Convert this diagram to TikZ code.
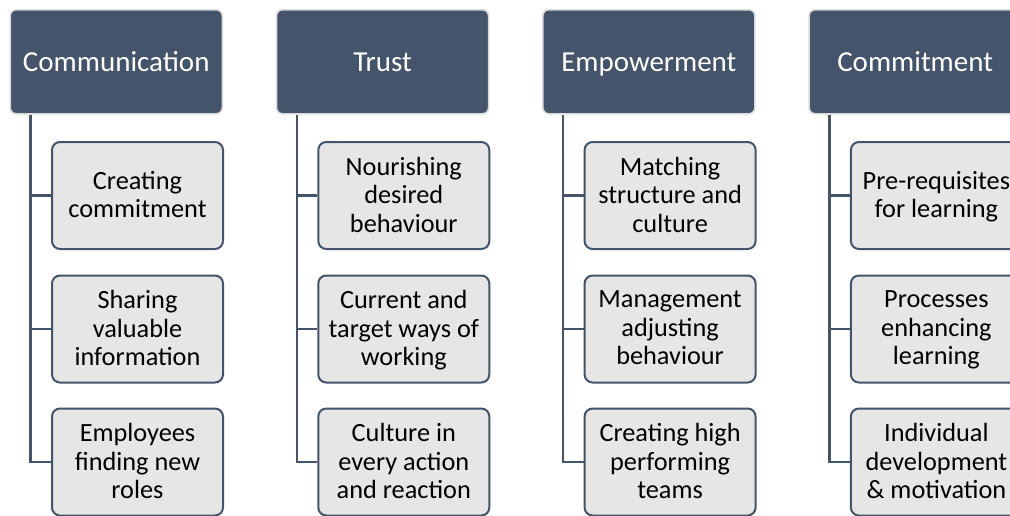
\documentclass[tikz,border=0pt]{standalone}
\usepackage{fontspec}
\setmainfont{Carlito}
\definecolor{slate}{HTML}{44546A}
\definecolor{paleGrey}{HTML}{E7E6E6}
\definecolor{rimGrey}{HTML}{DADADA}
\tikzset{
  headbox/.style={draw=rimGrey, line width=1.5pt, fill=slate, rounded corners=6pt,
    anchor=north west, minimum width=212pt, minimum height=104pt, inner sep=0pt,
    text height=19pt, text depth=0pt,
    text=white, font=\fontsize{29}{34}\selectfont},
  itembox/.style={draw=slate, line width=2pt, fill=paleGrey, rounded corners=8pt,
    anchor=north west, minimum width=171pt, minimum height=107pt, inner sep=0pt,
    text depth=2pt, align=center, text=black, font=\fontsize{26.3}{28.5}\selectfont},
  conn/.style={draw=slate, line width=2.5pt}
}
\begin{document}
\begin{tikzpicture}[x=1pt,y=-1pt]
\clip (0,0) rectangle (1010,515);
\fill[white] (0,0) rectangle (1010,515);

% Column 1
\node[headbox] (h1) at (9.5,9) {Communication};
\node[itembox] (c11) at (51,141)   {Creating\\commitment};
\node[itembox] (c12) at (51,274.5) {Sharing\\valuable\\information};
\node[itembox] (c13) at (51,407.5) {Employees\\finding new\\roles};

% Column 2
\node[headbox] (h2) at (275.8,9) {Trust};
\node[itembox] (c21) at (317.3,141)   {Nourishing\\desired\\behaviour};
\node[itembox] (c22) at (317.3,274.5) {Current and\\target ways of\\working};
\node[itembox] (c23) at (317.3,407.5) {Culture in\\every action\\and reaction};

% Column 3
\node[headbox] (h3) at (542.1,9) {Empowerment};
\node[itembox] (c31) at (583.6,141)   {Matching\\structure and\\culture};
\node[itembox] (c32) at (583.6,274.5) {Management\\adjusting\\behaviour};
\node[itembox] (c33) at (583.6,407.5) {Creating high\\performing\\teams};

% Column 4
\node[headbox] (h4) at (808.4,9) {Commitment};
\node[itembox] (c41) at (849.9,141)   {Pre-requisites\\for learning};
\node[itembox] (c42) at (849.9,274.5) {Processes\\enhancing\\learning};
\node[itembox] (c43) at (849.9,407.5) {Individual\\development\\\& motivation};

% Tree connectors: a spine under each header with branches to its items
\foreach \c in {1,2,3,4}{
  \coordinate (s\c) at ([xshift=21pt]h\c.south west);
  \draw[conn] (s\c) |- (c\c3.west);
  \draw[conn] (s\c |- c\c1.west) -- (c\c1.west);
  \draw[conn] (s\c |- c\c2.west) -- (c\c2.west);
}
\end{tikzpicture}
\end{document}
